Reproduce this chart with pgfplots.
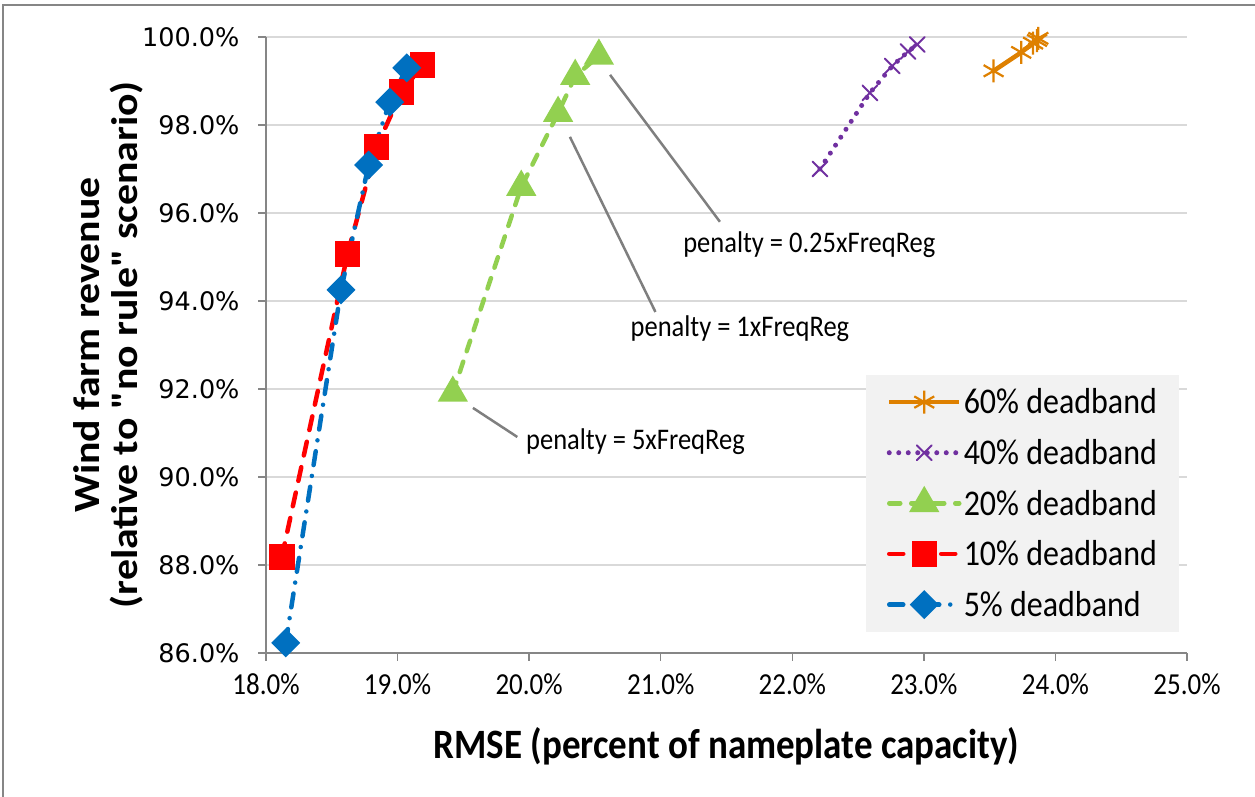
\documentclass[border=0pt]{standalone}
\usepackage{fontspec}
\setmainfont{Carlito}[Ligatures=TeXOff]
\newfontfamily\dejavu{DejaVu Sans}
\usepackage{graphicx}
\usepackage{pgfplots}
\pgfplotsset{compat=1.18}
\definecolor{c60}{RGB}{222,128,0}
\definecolor{c40}{RGB}{112,48,160}
\definecolor{c20}{RGB}{146,208,80}
\definecolor{c10}{RGB}{255,0,0}
\definecolor{c5}{RGB}{0,112,192}
\definecolor{axgray}{RGB}{134,134,134}
\definecolor{gridgray}{RGB}{217,217,217}
\definecolor{legfill}{RGB}{242,242,242}
\definecolor{anngray}{RGB}{127,127,127}
\newcommand{\vs}[1]{\scalebox{1}[1.13]{#1}}
\newcommand{\hs}[1]{\scalebox{1.13}[1]{#1}}
\begin{document}
\begin{tikzpicture}[x=1pt,y=1pt]
\useasboundingbox (0,0) rectangle (1255,797);
\draw[axgray, line width=1.5pt] (3,0) -- (3,792) -- (1255,792);
\begin{axis}[
  at={(266pt,144pt)}, anchor=south west,
  scale only axis, width=921pt, height=616pt,
  xmin=18, xmax=25, ymin=86, ymax=100,
  xtick distance=1, ytick distance=2,
  axis x line*=bottom, axis y line*=left,
  axis line style={axgray, line width=1.5pt},
  tick style={axgray, line width=1.5pt},
  tick align=outside, major tick length=8pt,
  ymajorgrids, grid style={gridgray, line width=1.5pt},
  /pgf/number format/assume math mode=true,
  xticklabel={\vs{\pgfmathprintnumber[fixed,fixed zerofill,precision=1]{\tick}\%}},
  yticklabel={\pgfmathprintnumber[fixed,fixed zerofill,precision=1]{\tick}\%},
  xticklabel style={font=\fontsize{27}{32}\selectfont, black, yshift=-9pt},
  yticklabel style={font=\dejavu\fontsize{25.5}{30}\selectfont, black, xshift=-15pt},
  xlabel={\vs{\bfseries RMSE (percent of nameplate capacity)}},
  ylabel={\hs{\bfseries Wind farm revenue}\\\hs{\bfseries(relative to "no rule" scenario)}},
  label style={black},
  xlabel style={font=\fontsize{37}{40}\selectfont, yshift=-26pt},
  ylabel style={font=\fontsize{37}{38}\selectfont, align=center, yshift=-8pt},
  legend style={at={(rel axis cs:0.992,0.034)}, anchor=south east,
    fill=legfill, draw=none, font=\fontsize{32}{34}\selectfont,
    row sep=20pt, inner xsep=20.5pt, inner ysep=12pt},
  legend cell align=left,
  legend image code/.code={\draw[mark repeat=2,mark phase=2] plot coordinates {(0pt,0pt)(35pt,0pt)(70pt,0pt)};},
]
\addplot[c60, line width=4.5pt, mark=asterisk, mark size=11.5pt, mark options={line width=2.2pt}]
  coordinates {(23.53,99.23) (23.74,99.65) (23.83,99.86) (23.86,99.92) (23.87,99.97)};
\addlegendentry{\vs{60\% deadband}}
\addplot[c40, line width=5pt, line cap=round, dash pattern=on 0pt off 9.5pt, mark=x, mark size=10.5pt, mark options={solid, line width=2pt}]
  coordinates {(22.21,97.00) (22.59,98.73) (22.76,99.34) (22.88,99.67) (22.95,99.83)};
\addlegendentry{\vs{40\% deadband}}
\addplot[c20, line width=4.5pt, line cap=round, dash pattern=on 11pt off 11pt, mark=triangle*, mark size=13pt, mark options={solid}]
  coordinates {(19.42,91.91) (19.94,96.59) (20.22,98.27) (20.35,99.11) (20.53,99.57)};
\addlegendentry{\vs{20\% deadband}}
\addplot[c10, line width=4.5pt, line cap=round, dash pattern=on 14pt off 12pt, mark=square*, mark size=10.5pt, mark options={solid}]
  coordinates {(18.12,88.18) (18.62,95.07) (18.84,97.50) (19.03,98.75) (19.19,99.36)};
\addlegendentry{\vs{10\% deadband}}
\addplot[c5, line width=4.5pt, line cap=round, dash pattern=on 14pt off 11pt on 0pt off 11pt, mark=square*, mark size=8pt, mark options={solid, rotate=45}]
  coordinates {(18.15,86.23) (18.57,94.25) (18.78,97.09) (18.94,98.52) (19.07,99.30)};
\addlegendentry{\vs{5\% deadband}}
\draw[anngray, line width=2.5pt] (axis cs:20.615,99.14) -- (axis cs:21.45,95.80);
\draw[anngray, line width=2.5pt] (axis cs:20.31,97.73) -- (axis cs:20.96,93.75);
\draw[anngray, line width=2.5pt] (axis cs:19.573,91.57) -- (axis cs:19.91,90.91);
\node[anchor=west, font=\fontsize{26.5}{30}\selectfont, inner sep=0pt] at (axis cs:21.17,95.27) {\vs{penalty = 0.25xFreqReg}};
\node[anchor=west, font=\fontsize{26.5}{30}\selectfont, inner sep=0pt] at (axis cs:20.77,93.36) {\vs{penalty = 1xFreqReg}};
\node[anchor=west, font=\fontsize{26.5}{30}\selectfont, inner sep=0pt] at (axis cs:19.976,90.80) {\vs{penalty = 5xFreqReg}};
\end{axis}
\end{tikzpicture}
\end{document}
